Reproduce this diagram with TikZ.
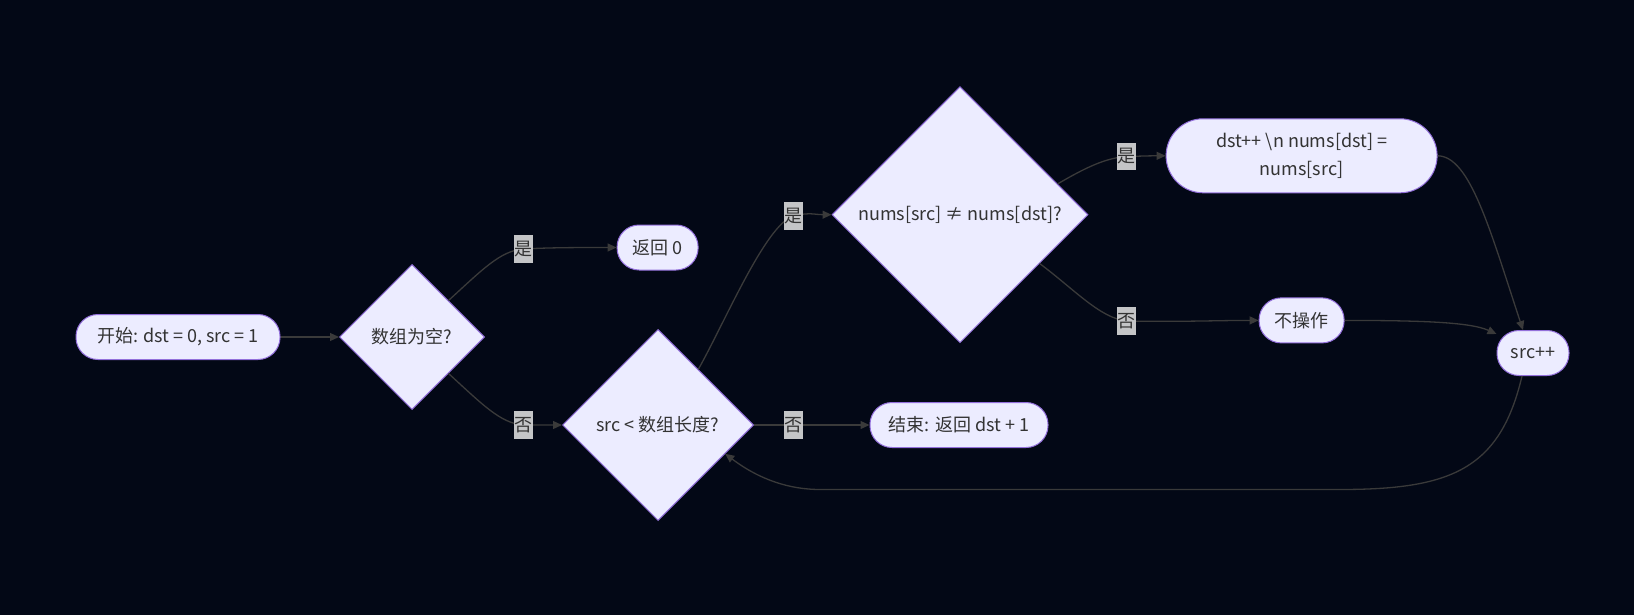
\documentclass[tikz,border=0pt]{standalone}
\usepackage{fontspec}
\setmainfont{Noto Sans CJK SC}
\usetikzlibrary{shapes.geometric,arrows.meta,calc}
\definecolor{bg}{HTML}{030816}
\definecolor{nfill}{HTML}{ECECFF}
\definecolor{nborder}{HTML}{9370DB}
\definecolor{ecol}{HTML}{3A3A3A}
\definecolor{lfill}{HTML}{C4C5C7}
\definecolor{tcol}{HTML}{333333}
\begin{document}
\begin{tikzpicture}[x=1pt,y=-1pt,
  every node/.style={font=\fontsize{18}{22}\selectfont, text=tcol},
  pill/.style={draw=nborder, fill=nfill, line width=1pt, rectangle, rounded corners=22pt, minimum height=45pt, inner sep=0pt},
  dia/.style={draw=nborder, fill=nfill, line width=1pt, diamond, shape aspect=1, inner sep=0pt},
  edge/.style={draw=ecol, line width=1.3pt, -{Triangle[length=9pt,width=8pt]}},
  lbl/.style={fill=lfill, inner sep=0pt, minimum width=19pt, minimum height=27.5pt}]
\fill[bg] (0,0) rectangle (1634,615);
\useasboundingbox (0,0) rectangle (1634,615);

% nodes
\node[pill, minimum width=204pt] (start) at (178,337) {开始: dst = 0, src = 1};
\node[dia, minimum width=145pt, minimum height=145pt] (d1) at (412,337) {数组为空?};
\node[pill, minimum width=81pt] (r0) at (657.6,247.5) {返回 0};
\node[dia, minimum width=191pt, minimum height=191pt] (d2) at (658,425) {src < 数组长度?};
\node[pill, minimum width=178pt] (fin) at (959,425) {结束: 返回 dst + 1};
\node[dia, minimum width=256pt, minimum height=256pt] (d3) at (960,214.7) {nums[src] ≠ nums[dst]?};
\node[pill, minimum width=271pt, minimum height=74pt, rounded corners=37pt, align=center, font=\fontsize{18}{28}\selectfont] (dst) at (1301.6,155.8) {dst++ \textbackslash n nums[dst] =\\nums[src]};
\node[pill, minimum width=85pt] (nop) at (1301.6,320.4) {不操作};
\node[pill, minimum width=72pt] (src) at (1533,353) {src++};

% label positions
\coordinate (l1) at (523,249);
\coordinate (l2) at (523,425);
\coordinate (l3) at (793,216);
\coordinate (l4) at (793,425);
\coordinate (l5) at (1126.5,156.5);
\coordinate (l6) at (1126.5,321);

% edges
\draw[edge] (start.east) -- (d1.west);
\draw[edge] (d1.north east) .. controls (482,270) and (500,251) .. (l1) .. controls (550,247.5) and (580,247.5) .. (r0.west);
\draw[edge] (d1.south east) .. controls (482,404) and (500,423) .. (l2) .. controls (535,425) and (545,425) .. (d2.west);
\draw[edge] ($(d2.north)!0.42!(d2.east)$) .. controls (725,322) and (765,226) .. (l3) .. controls (810,212) and (815,214.7) .. (d3.west);
\draw[edge] (d2.east) -- (fin.west);
\draw[edge] ($(d3.north)!0.76!(d3.east)$) .. controls (1085,168) and (1105,158) .. (l5) .. controls (1145,156) and (1150,155.8) .. (dst.west);
\draw[edge] ($(d3.east)!0.38!(d3.south)$) .. controls (1075,290) and (1100,318) .. (l6) .. controls (1180,322) and (1220,320.4) .. (nop.west);
\draw[edge] (dst.east) .. controls (1470,156) and (1490,230) .. ($(src.north)+(-10,0)$);
\draw[edge] (nop.east) .. controls (1420,320.5) and (1470,322) .. ($(src.north west)+(0,4)$);
\draw[edge] ($(src.south)+(-11,0)$) .. controls (1500,470) and (1450,489.5) .. (1340,489.5) -- (820,489.5) .. controls (790,489.5) and (760,480) .. ($(d2.east)!0.3!(d2.south)$);

% labels
\node[lbl] at (l1) {是};
\node[lbl] at (l2) {否};
\node[lbl] at (l3) {是};
\node[lbl] at (l4) {否};
\node[lbl] at (l5) {是};
\node[lbl] at (l6) {否};
\end{tikzpicture}
\end{document}
